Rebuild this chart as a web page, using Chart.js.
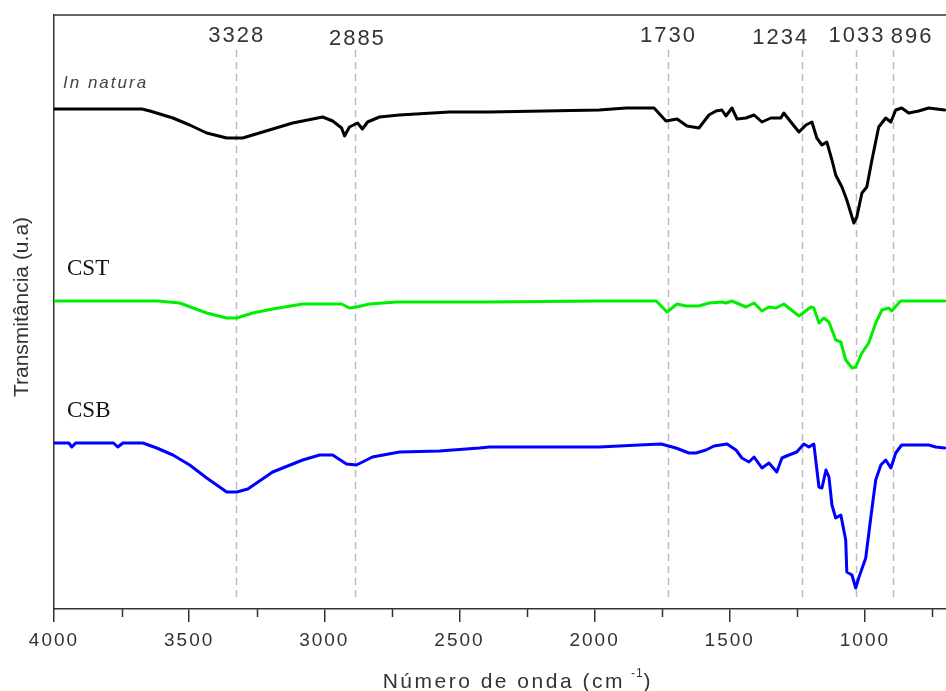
<!DOCTYPE html>
<html>
<head>
<meta charset="utf-8">
<title>Espectros FTIR</title>
<script src="https://cdn.jsdelivr.net/npm/chart.js@4.4.1/dist/chart.umd.min.js"></script>
<style>
  html, body { margin: 0; padding: 0; background: #fff; overflow: hidden; }
  canvas { display: block; }
</style>
</head>
<body>
<canvas id="ftir" width="946" height="691"></canvas>
<script>
// Wavenumber (cm-1) and stacked transmittance (arbitrary units) for each sample
const inNaturaWn = [4000,3675,3645,3560,3498,3435,3361,3302,3265,3191,3117,3006,2969,2936,2925,2907,2877,2859,2840,2796,2722,2537,2389,1983,1883,1780,1736,1695,1658,1614,1577,1551,1529,1514,1492,1473,1440,1410,1381,1348,1311,1300,1274,1244,1218,1196,1178,1159,1141,1122,1108,1085,1067,1041,1030,1011,993,974,949,923,904,886,864,838,801,764,705];
const inNaturaT  = [499,499,497,490,483,475,470,470,473,479,485,491,487,480,472,481,485,479,486,491,493,496,496,498,500,500,487,489,482,480,493,497,498,492,500,489,490,493,486,490,490,495,486,476,483,486,470,463,466,448,433,421,408,385,391,415,421,448,481,490,486,498,500,495,497,500,498];

const cstWn = [4000,3616,3535,3435,3361,3324,3265,3191,3080,2936,2907,2881,2833,2733,2400,1983,1772,1732,1695,1662,1614,1577,1529,1514,1492,1440,1410,1381,1355,1329,1300,1244,1200,1189,1170,1152,1133,1108,1089,1071,1048,1034,1011,986,960,937,912,901,868,705];
const cstT  = [307,307,305,295,290,290,295,299,304,304,300,301,304,306,306,307,307,296,304,302,302,305,306,305,307,301,305,297,301,300,304,292,301,300,285,290,286,268,266,248,240,241,255,265,285,298,300,297,307,307];

const csbWn = [4000,3945,3934,3920,3780,3764,3745,3671,3620,3560,3498,3435,3361,3324,3283,3191,3080,3017,2969,2918,2881,2822,2722,2574,2426,2389,1983,1835,1754,1699,1651,1625,1588,1558,1510,1477,1455,1429,1410,1381,1355,1326,1307,1281,1252,1226,1207,1189,1170,1159,1144,1133,1122,1108,1089,1071,1067,1048,1034,1023,997,978,960,941,923,904,886,864,764,738,705];
const csbT  = [165,165,161,165,165,161,165,165,160,153,143,130,116,116,119,136,148,153,153,144,143,151,156,157,160,161,161,163,164,160,155,155,158,162,164,158,150,146,151,140,145,136,150,153,156,164,161,164,121,120,138,131,103,90,93,68,36,33,20,30,50,91,128,143,148,140,155,163,163,161,160];

// Axis ticks and marked absorption bands
const xTickValues = [4000,3500,3000,2500,2000,1500,1000];
const xMinorTickValues = [3750,3250,2750,2250,1750,1250,750];
const bandPositions = [3328,2885,1730,1234,1033,896];

const SANS = '"Liberation Sans", Arial, sans-serif';
const SERIF = '"Liberation Serif", "Times New Roman", serif';

const toPoints = (wn, t) => wn.map((w, i) => ({ x: w, y: t[i] }));

const series = [
  { label: 'In natura', wn: inNaturaWn, t: inNaturaT, color: '#000000' },
  { label: 'CST',       wn: cstWn,      t: cstT,      color: '#00ee00' },
  { label: 'CSB',       wn: csbWn,      t: csbT,      color: '#0000ff' }
];

// Text styling for the sample names written above each trace
const seriesLabelStyle = {
  'In natura': { font: 'italic 17px ' + SANS, color: '#444', spacing: '2px', x: 63, y: 88 },
  'CST':       { font: '23px ' + SERIF,       color: '#111', spacing: '0px', x: 67, y: 275 },
  'CSB':       { font: '23px ' + SERIF,       color: '#111', spacing: '0px', x: 67, y: 417 }
};

// Small nudges so neighbouring band labels do not collide
const bandLabelShift = { 1234: { dx: -22, dy: 2 }, 896: { dx: 18, dy: 1 }, 2885: { dx: 1, dy: 3 } };

const decorations = {
  id: 'decorations',
  beforeDraw(chart) {
    // spaced-out digits on the wavenumber axis
    chart.ctx.letterSpacing = '2px';
  },
  beforeDatasetsDraw(chart) {
    const { ctx, chartArea: a, scales: { x } } = chart;
    ctx.letterSpacing = '0px';
    ctx.save();
    ctx.strokeStyle = '#333';
    ctx.lineWidth = 1.5;
    // frame top edge
    ctx.beginPath();
    ctx.moveTo(a.left, a.top);
    ctx.lineTo(a.right, a.top);
    ctx.stroke();
    // minor tick marks
    ctx.beginPath();
    xMinorTickValues.forEach(v => {
      const px = Math.round(x.getPixelForValue(v)) + 0.5;
      ctx.moveTo(px, a.bottom);
      ctx.lineTo(px, a.bottom + 8);
    });
    ctx.stroke();
    // dashed guide lines at the band positions
    ctx.strokeStyle = '#bcbcbc';
    ctx.lineWidth = 1.5;
    ctx.setLineDash([7, 5]);
    bandPositions.forEach(v => {
      const px = Math.round(x.getPixelForValue(v)) + 0.5;
      ctx.beginPath();
      ctx.moveTo(px, a.top + 35);
      ctx.lineTo(px, a.bottom - 9);
      ctx.stroke();
    });
    ctx.restore();
  },
  afterDraw(chart) {
    const { ctx, chartArea: a, scales: { x } } = chart;
    ctx.save();
    ctx.textBaseline = 'alphabetic';

    // band labels
    ctx.font = '22px ' + SANS;
    ctx.fillStyle = '#333';
    ctx.letterSpacing = '2px';
    ctx.textAlign = 'center';
    bandPositions.forEach(v => {
      const s = bandLabelShift[v] || { dx: 0, dy: 0 };
      ctx.fillText(String(v), x.getPixelForValue(v) + s.dx + 1, a.top + 27 + s.dy);
    });

    // sample names
    ctx.textAlign = 'left';
    series.forEach(s => {
      const st = seriesLabelStyle[s.label];
      ctx.font = st.font;
      ctx.fillStyle = st.color;
      ctx.letterSpacing = st.spacing;
      ctx.fillText(s.label, st.x, st.y);
    });

    // y axis title
    ctx.save();
    ctx.letterSpacing = '0px';
    ctx.font = '21px ' + SANS;
    ctx.fillStyle = '#333';
    ctx.textAlign = 'center';
    ctx.textBaseline = 'middle';
    ctx.translate(22, 307);
    ctx.rotate(-Math.PI / 2);
    ctx.fillText('Transmitância (u.a)', 0, 0);
    ctx.restore();

    // x axis title with superscript unit
    const main = 'Número de onda (cm';
    const sup = '-1';
    const close = ')';
    ctx.letterSpacing = '2.5px';
    ctx.font = '21px ' + SANS;
    const wMain = ctx.measureText(main).width;
    const wClose = ctx.measureText(close).width;
    ctx.font = '12px ' + SANS;
    ctx.letterSpacing = '1px';
    const wSup = ctx.measureText(sup).width;
    const gap = 6;
    const total = wMain + gap + wSup + wClose;
    const cx = a.left + (a.right - a.left) * 0.52;
    let px = cx - total / 2;
    const base = 688;
    ctx.fillStyle = '#333';
    ctx.textAlign = 'left';
    ctx.font = '21px ' + SANS;
    ctx.letterSpacing = '2.5px';
    ctx.fillText(main, px, base);
    px += wMain + gap;
    ctx.font = '12px ' + SANS;
    ctx.letterSpacing = '1px';
    ctx.fillText(sup, px, base - 11);
    px += wSup;
    ctx.font = '21px ' + SANS;
    ctx.letterSpacing = '2.5px';
    ctx.fillText(close, px, base);
    ctx.restore();
  }
};

new Chart(document.getElementById('ftir'), {
  type: 'line',
  data: {
    datasets: series.map(s => ({
      label: s.label,
      data: toPoints(s.wn, s.t),
      borderColor: s.color,
      backgroundColor: s.color,
      borderWidth: 3,
      pointRadius: 0,
      tension: 0,
      fill: false,
      borderJoinStyle: 'round',
      borderCapStyle: 'round'
    }))
  },
  options: {
    responsive: false,
    animation: false,
    devicePixelRatio: 1,
    layout: { padding: { top: 15, right: 0, bottom: 0, left: 0 } },
    plugins: { legend: { display: false }, tooltip: { enabled: false } },
    scales: {
      x: {
        type: 'linear',
        reverse: true,
        min: 700,
        max: 4000,
        afterBuildTicks: s => { s.ticks = xTickValues.map(v => ({ value: v })); },
        afterFit: s => { s.height = 82; },
        ticks: {
          autoSkip: false,
          maxRotation: 0,
          padding: 7,
          color: '#333',
          font: { family: SANS, size: 19 },
          callback: v => String(v)
        },
        grid: {
          display: true,
          drawOnChartArea: false,
          drawTicks: true,
          tickLength: 13,
          color: '#333',
          lineWidth: 1.5
        },
        border: { display: true, color: '#333', width: 1.5 }
      },
      y: {
        type: 'linear',
        min: -1,
        max: 593,
        afterFit: s => { s.width = 54; },
        ticks: { display: false },
        grid: { display: false, drawTicks: false },
        border: { display: true, color: '#333', width: 1.5 }
      }
    }
  },
  plugins: [decorations]
});
</script>
</body>
</html>
